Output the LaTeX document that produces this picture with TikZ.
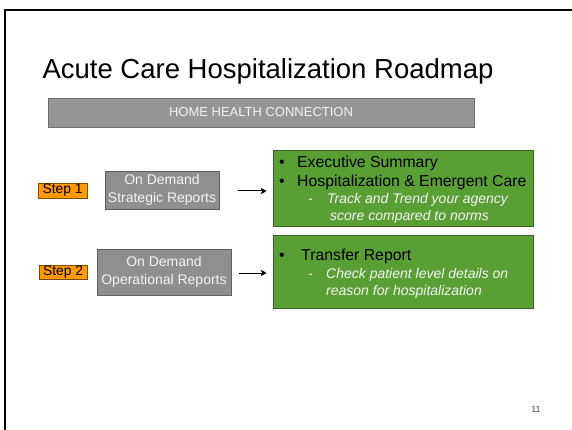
\documentclass[tikz,border=0pt]{standalone}
\usepackage{fontspec}
\setmainfont{Liberation Sans}
\usetikzlibrary{arrows.meta}
\definecolor{bannergray}{HTML}{969696}
\definecolor{bannerline}{HTML}{6E6E6E}
\definecolor{boxgray}{HTML}{8F8F8F}
\definecolor{boxline}{HTML}{5F5F5F}
\definecolor{stepfill}{HTML}{FF9900}
\definecolor{stepline}{HTML}{7A4E00}
\definecolor{greenfill}{HTML}{59A034}
\definecolor{greenline}{HTML}{35631E}
\definecolor{paletext}{HTML}{F4F4F4}
\tikzset{
  banner/.style={draw=bannerline, fill=bannergray, line width=0.8pt, minimum width=426pt, minimum height=29pt, inner sep=0pt, text=paletext, font=\fontsize{13}{15}\selectfont},
  graybox/.style={draw=boxline, fill=boxgray, line width=0.8pt, inner sep=0pt, align=center, text=paletext, font=\fontsize{14}{18}\selectfont},
  stepbox/.style={draw=stepline, fill=stepfill, line width=0.6pt, inner sep=0pt, font=\fontsize{13.8}{15}\selectfont},
  greenbox/.style={draw=greenline, fill=greenfill, line width=0.8pt, minimum width=260pt, inner sep=0pt},
  maintxt/.style={anchor=base west, inner sep=0pt, font=\fontsize{15.8}{18}\selectfont},
  subtxt/.style={anchor=base west, inner sep=0pt, text=paletext, font=\fontsize{14}{17}\selectfont\itshape},
  arr/.style={-{Stealth[length=6pt,width=6.5pt,inset=1.5pt]}, line width=1pt}
}
\begin{document}
\begin{tikzpicture}[x=1pt,y=-1pt]
\useasboundingbox (0,0) rectangle (572,430);
\fill[white] (0,0) rectangle (572,430);
\draw[line width=1.5pt] (5,432) -- (5,10) -- (574,10);

\node[inner sep=0pt, font=\fontsize{27.5}{30}\selectfont] (title) at (268,71) {Acute Care Hospitalization Roadmap};
\node[banner] (banner) at (261,112.5) {HOME HEALTH CONNECTION};

\node[stepbox, minimum width=49pt, minimum height=15pt] (step1) at (62.5,190.5) {Step 1};
\node[stepbox, minimum width=48pt, minimum height=14pt] (step2) at (63,272.5) {Step 2};

\node[graybox, minimum width=114pt, minimum height=38pt] (rep1) at (162,190) {On Demand\\Strategic Reports};
\node[graybox, minimum width=134pt, minimum height=46pt] (rep2) at (164,272) {On Demand\\Operational Reports};

\node[greenbox, minimum height=76pt] (green1) at (403,188) {};
\node[greenbox, minimum height=73pt] (green2) at (403,271.5) {};

\draw[arr, shorten <=19pt, shorten >=6pt] ([yshift=-1pt]rep1.east) -- ([yshift=-1pt]green1.west |- rep1.east);
\draw[arr, shorten <=8pt, shorten >=6pt] ([yshift=-1pt]rep2.east) -- ([yshift=-1pt]green2.west |- rep2.east);

\node[maintxt] (b1) at (279,168) {•};
\node[maintxt] (t1) at (297,168) {Executive Summary};
\node[maintxt] (b2) at (279,186.5) {•};
\node[maintxt] (t2) at (297,186.5) {Hospitalization \& Emergent Care};
\node[subtxt] (d1) at (308,204) {-};
\node[subtxt] (s1) at (327,204) {Track and Trend your agency};
\node[subtxt] (s2) at (330,220.5) {score compared to norms};

\node[maintxt] (b3) at (279,260) {•};
\node[maintxt] (t3) at (301,260) {Transfer Report};
\node[subtxt] (d2) at (308,278.3) {-};
\node[subtxt] (s3) at (326,278.3) {Check patient level details on};
\node[subtxt] (s4) at (326,295) {reason for hospitalization};

\node[inner sep=0pt, text=black!70, font=\fontsize{9}{10}\selectfont] (page) at (536,409) {11};
\end{tikzpicture}
\end{document}
